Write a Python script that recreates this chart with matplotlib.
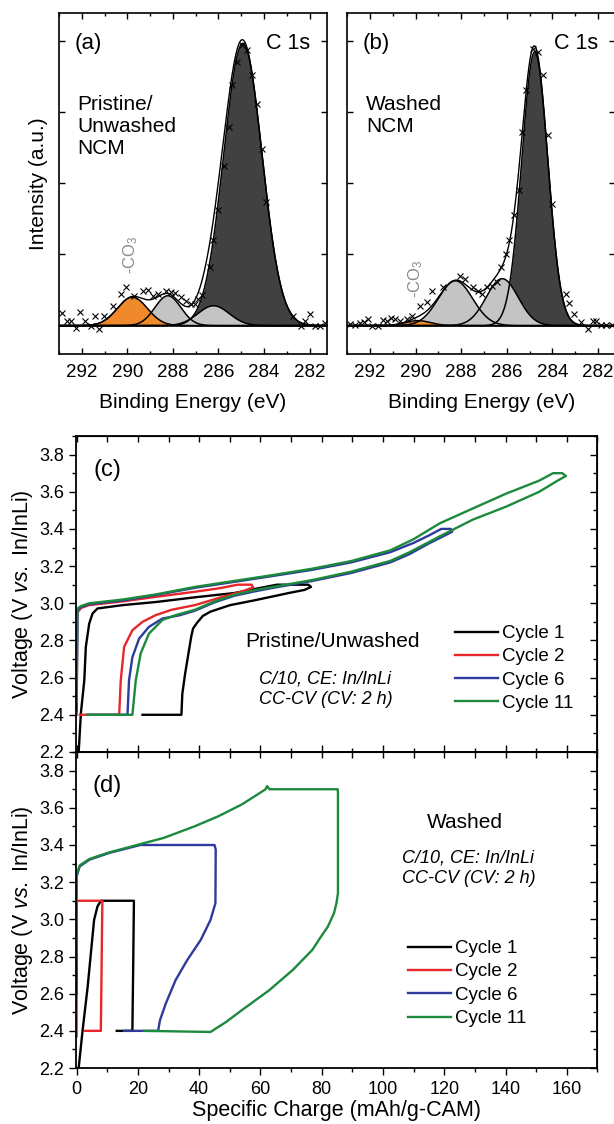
import numpy as np
import matplotlib
matplotlib.use("Agg")
import matplotlib.pyplot as plt
from matplotlib.ticker import MultipleLocator

plt.rcParams['font.family'] = ['Liberation Sans', 'DejaVu Sans']
plt.rcParams['mathtext.fontset'] = 'custom'
plt.rcParams['mathtext.rm'] = 'Liberation Sans'
plt.rcParams['mathtext.it'] = 'Liberation Sans:italic'

# ---------------- XPS C 1s data ----------------
# fit components: centre (eV), height (a.u.), sigma (eV), colour
comp_a_center = [284.93, 286.22, 288.22, 289.78]
comp_a_height = [3.97, 0.28, 0.42, 0.40]
comp_a_sigma = [0.84, 0.69, 0.57, 0.66]
comp_b_center = [284.77, 286.20, 288.25, 289.90]
comp_b_height = [3.85, 0.66, 0.63, 0.07]
comp_b_sigma = [0.57, 0.70, 0.75, 0.55]
comp_colors = ['#414141', '#c4c4c4', '#c4c4c4', '#f0892a']

pts_a_e = [292.89, 292.67, 292.47, 292.25, 292.07, 291.85, 291.60, 291.44, 291.26,
           291.04, 290.64, 290.30, 290.07, 289.73, 289.33, 289.11, 288.89, 288.67,
           288.30, 288.07, 287.93, 287.66, 287.44, 287.19, 287.04, 286.89, 286.74,
           286.37, 286.22, 286.00, 285.78, 285.56, 285.41, 285.19, 284.96, 284.74,
           284.52, 284.30, 284.07, 283.90, 282.74, 282.37, 282.22, 282.00, 281.78,
           281.56, 281.33]
pts_a_i = [0.18, 0.07, 0.07, -0.03, 0.19, 0.06, 0.00, 0.14, -0.05,
           0.14, 0.27, 0.44, 0.54, 0.42, 0.48, 0.50, 0.42, 0.45,
           0.49, 0.47, 0.46, 0.40, 0.34, 0.30, 0.30, 0.38, 0.43,
           0.82, 1.20, 1.62, 2.25, 2.79, 3.39, 3.71, 3.94, 3.87,
           3.52, 3.12, 2.49, 1.74, 0.14, 0.00, 0.07, 0.17, -0.01,
           0.00, 0.03]

pts_b_e = [292.87, 292.64, 292.42, 292.27, 292.09, 291.90, 291.67, 291.45, 291.25,
           291.07, 290.92, 290.70, 290.40, 290.17, 289.80, 289.50, 289.30, 288.82,
           288.07, 287.85, 287.47, 287.25, 287.10, 286.87, 286.65, 286.42, 286.27,
           286.05, 285.90, 285.67, 285.48, 285.33, 285.15, 284.85, 284.62, 284.40,
           284.17, 284.02, 283.42, 283.27, 283.05, 282.75, 282.45, 282.23, 282.08,
           281.85, 281.63, 281.40]
pts_b_i = [0.02, 0.01, 0.03, 0.05, 0.09, 0.00, 0.00, 0.08, 0.07,
           0.11, 0.09, 0.07, 0.09, 0.14, 0.27, 0.33, 0.48, 0.54,
           0.70, 0.66, 0.54, 0.49, 0.45, 0.54, 0.56, 0.61, 0.82,
           1.00, 1.20, 1.55, 1.90, 2.72, 3.31, 3.89, 3.85, 3.53,
           2.68, 1.71, 0.45, 0.32, 0.16, 0.05, -0.05, 0.06, 0.06,
           0.01, 0.01, 0.01]

# ---------------- galvanostatic cycling data (mAh/g-CAM, V) ----------------
labels = ['Cycle 1', 'Cycle 2', 'Cycle 6', 'Cycle 11']
cyc_colors = ['#000000', '#e8262a', '#2e3a9e', '#1c8a3c']

c1_q = [0.5, 1.4, 2.5, 3.0, 4.1, 5.2, 6.8, 15, 26, 38.6, 51.4, 61.6, 65.4, 75.6,
        76.5, 74.4, 69.2, 57.8, 50.1, 43.7, 41.2, 39.3, 38.0, 37.4, 36.5, 35.4,
        34.5, 34.2, 21.5]
c1_v = [2.15, 2.41, 2.585, 2.765, 2.89, 2.945, 2.972, 2.99, 3.007, 3.032, 3.055,
        3.088, 3.10, 3.10, 3.088, 3.072, 3.055, 3.015, 2.99, 2.955, 2.932, 2.895,
        2.864, 2.82, 2.73, 2.62, 2.513, 2.40, 2.40]
c2_q = [0, 0.2, 1.5, 4, 15, 26, 38.6, 46.3, 52.6, 57.1,
        57.6, 53.9, 46.3, 38.6, 31, 25.8, 21.5, 18.2, 15.5, 14.4, 13.9, 1.1]
c2_v = [2.40, 2.95, 2.975, 2.99, 3.01, 3.035, 3.062, 3.08, 3.10, 3.10,
        3.085, 3.063, 3.028, 2.99, 2.965, 2.936, 2.90, 2.855, 2.765, 2.585, 2.40, 2.40]
c6_q = [0, 0.3, 1.4, 4.1, 15, 26, 38.6, 51.4, 64.1, 76.9, 89.6, 102.4, 110, 115,
        119, 122.1, 122.6, 119, 115, 108.7, 102.4, 89.6, 76.9, 64.1, 57.8, 51.4,
        45, 38.6, 33.5, 28, 23.6, 20.4, 18.2, 17.1, 16.6, 3.6]
c6_v = [2.42, 2.965, 2.98, 2.995, 3.015, 3.045, 3.083, 3.115, 3.147, 3.18, 3.22,
        3.275, 3.325, 3.365, 3.40, 3.40, 3.385, 3.355, 3.322, 3.265, 3.22, 3.163,
        3.12, 3.083, 3.063, 3.04, 3.005, 2.96, 2.935, 2.918, 2.873, 2.81, 2.71,
        2.585, 2.40, 2.40]
c11_q = [0, 0.2, 1.4, 4.1, 15, 26, 38.6, 51.4, 64.1, 76.9, 89.6, 102.4, 110, 118.5,
         129.3, 140.2, 151, 155.5, 158.5, 159.7, 157, 151, 140.2, 129.3, 118.5,
         108.7, 102.4, 89.6, 76.9, 64.1, 57.8, 51.4, 45, 38.6, 32.3, 28, 23.6,
         20.9, 19.3, 18.2, 3.6]
c11_v = [2.47, 2.97, 2.985, 3.0, 3.02, 3.048, 3.088, 3.12, 3.152, 3.186, 3.227,
         3.285, 3.345, 3.43, 3.51, 3.59, 3.66, 3.70, 3.70, 3.685, 3.66, 3.60,
         3.52, 3.45, 3.36, 3.275, 3.228, 3.17, 3.125, 3.088, 3.07, 3.045, 3.01,
         2.965, 2.936, 2.91, 2.837, 2.73, 2.585, 2.40, 2.40]

w1_q = [0.6, 1.95, 3.6, 4.65, 5.7, 6.8, 7.9, 18.7, 18.5, 18.2, 13.1]
w1_v = [2.19, 2.403, 2.637, 2.817, 2.997, 3.069, 3.10, 3.10, 2.80, 2.40, 2.40]
w2_q = [0, 0, 0.6, 8.4, 7.9, 2.8]
w2_v = [2.37, 3.10, 3.10, 3.10, 2.40, 2.40]
w6_q = [0, 0, 1.0, 4.2, 10.6, 17, 20.8, 45, 45.4, 45.3, 43.7, 40.5, 36.1, 32.3,
        29.1, 27.2, 26.6, 15.5]
w6_v = [2.60, 3.23, 3.285, 3.321, 3.357, 3.384, 3.40, 3.40, 3.375, 3.087, 2.997,
        2.889, 2.781, 2.673, 2.547, 2.457, 2.40, 2.40]
w11_q = [0, 0, 1.0, 4.2, 10.6, 17, 20.8, 28.4, 38.6, 46.3, 53.9, 61.6, 62.2, 62.9,
         85.2, 85.3, 85.3, 84.8, 84.0, 82, 79.4, 76.9, 70.5, 62.9, 53.9, 48.8,
         43.7, 22]
w11_v = [2.82, 3.24, 3.29, 3.325, 3.36, 3.388, 3.405, 3.438, 3.501, 3.555, 3.618,
         3.699, 3.717, 3.70, 3.70, 3.68, 3.141, 3.087, 3.033, 2.961, 2.898, 2.835,
         2.727, 2.619, 2.511, 2.448, 2.394, 2.40]

# ======================================================================
fig = plt.figure(figsize=(6.14, 11.24), dpi=100)
ax_a = fig.add_axes([0.0961, 0.685, 0.436, 0.3037])
ax_b = fig.add_axes([0.5656, 0.685, 0.436, 0.3037])
ax_c = fig.add_axes([0.1233, 0.331, 0.8498, 0.2811])
ax_d = fig.add_axes([0.1233, 0.0498, 0.8498, 0.2811])


def xps_panel(ax, centers, heights, sigmas, pe, pi, tag, sample, co3_xy):
    e = np.linspace(293.5, 280.5, 800)
    comps = [h * np.exp(-(e - c) ** 2 / (2 * s ** 2))
             for c, h, s in zip(centers, heights, sigmas)]
    for y, col in zip(comps, comp_colors):
        ax.fill_between(e, 0, y, color=col, lw=0)
        ax.plot(e, y, color='black', lw=1.1)
    ax.plot(e, np.sum(comps, axis=0), color='black', lw=1.0)
    ax.axhline(0, color='black', lw=1.1)
    ax.plot(pe, pi, 'x', color='black', ms=4.5, mew=0.8)
    ax.set_xlim(293, 281.25)
    ax.set_ylim(-0.4, 4.4)
    ax.xaxis.set_major_locator(MultipleLocator(2))
    ax.xaxis.set_minor_locator(MultipleLocator(1))
    ax.set_yticks([1, 2, 3, 4])
    ax.set_yticklabels([])
    ax.tick_params(which='both', direction='in', top=True, right=True,
                   labelsize=13.5, width=1, pad=7)
    ax.tick_params(which='major', length=4)
    ax.tick_params(which='minor', length=2.5)
    ax.set_xlabel('Binding Energy (eV)', fontsize=15, labelpad=9)
    for s in ax.spines.values():
        s.set_linewidth(1.2)
    ax.text(0.108, 0.911, tag, transform=ax.transAxes, fontsize=16,
            ha='center', va='center')
    ax.text(0.938, 0.911, 'C 1s', transform=ax.transAxes, fontsize=15.5,
            ha='right', va='center')
    ax.text(0.07, 0.76, sample, transform=ax.transAxes, fontsize=15,
            ha='left', va='top', linespacing=1.2)
    ax.text(co3_xy[0], co3_xy[1], '-CO$_3$', color='#8a8a8a', fontsize=12,
            rotation=90, ha='center', va='center')


xps_panel(ax_a, comp_a_center, comp_a_height, comp_a_sigma, pts_a_e, pts_a_i,
          '(a)', 'Pristine/\nUnwashed\nNCM', (289.84, 1.0))
xps_panel(ax_b, comp_b_center, comp_b_height, comp_b_sigma, pts_b_e, pts_b_i,
          '(b)', 'Washed\nNCM', (290.0, 0.66))
ax_a.set_ylabel('Intensity (a.u.)', fontsize=15, labelpad=1)


def cycling_panel(ax, curves, tag, title, title_xy, cond_xy, leg_xy):
    for (q, v), col, lab in zip(curves, cyc_colors, labels):
        ax.plot(q, v, color=col, lw=1.7, label=lab)
    ax.set_xlim(-0.3, 170)
    ax.set_ylim(2.2, 3.9)
    ax.xaxis.set_major_locator(MultipleLocator(20))
    ax.xaxis.set_minor_locator(MultipleLocator(10))
    ax.yaxis.set_major_locator(MultipleLocator(0.2))
    ax.yaxis.set_minor_locator(MultipleLocator(0.1))
    ax.yaxis.set_major_formatter(plt.FormatStrFormatter('%.1f'))
    ax.tick_params(which='both', labelsize=13, width=1)
    ax.tick_params(which='major', length=5)
    ax.tick_params(which='minor', length=3)
    ax.tick_params(axis='y', which='both', direction='out')
    ax.tick_params(axis='x', which='both', direction='out', pad=4.5)
    sec_x = ax.secondary_xaxis('top')
    sec_x.xaxis.set_major_locator(MultipleLocator(10))
    sec_x.tick_params(direction='in', length=4, width=1, labeltop=False)
    sec_y = ax.secondary_yaxis('right')
    sec_y.yaxis.set_major_locator(MultipleLocator(0.2))
    sec_y.yaxis.set_minor_locator(MultipleLocator(0.1))
    sec_y.tick_params(which='major', direction='in', length=5, width=1,
                      labelright=False)
    sec_y.tick_params(which='minor', direction='in', length=3, width=1)
    for s in ax.spines.values():
        s.set_linewidth(1.3)
    ax.set_ylabel('Voltage (V $\\it{vs.}$ In/InLi)', fontsize=15.5, labelpad=3)
    ax.text(0.06, 0.893, tag, transform=ax.transAxes, fontsize=17,
            ha='center', va='center')
    ax.text(title_xy[0], title_xy[1], title, transform=ax.transAxes,
            fontsize=15, ha='center', va='center')
    ax.text(cond_xy[0], cond_xy[1], 'C/10, CE: In/InLi\nCC-CV (CV: 2 h)',
            transform=ax.transAxes, fontsize=13, style='italic',
            ha='left', va='center', linespacing=1.25)
    ax.legend(loc='upper left', bbox_to_anchor=leg_xy, frameon=False,
              fontsize=13.5, handlelength=2.3, handletextpad=0.2,
              labelspacing=0.33, borderpad=0, borderaxespad=0)


cycling_panel(ax_c, [(c1_q, c1_v), (c2_q, c2_v), (c6_q, c6_v), (c11_q, c11_v)],
              '(c)', 'Pristine/Unwashed', (0.493, 0.349), (0.351, 0.198),
              (0.727, 0.402))
ax_c.tick_params(axis='x', which='both', direction='in', labelbottom=False)
cycling_panel(ax_d, [(w1_q, w1_v), (w2_q, w2_v), (w6_q, w6_v), (w11_q, w11_v)],
              '(d)', 'Washed', (0.746, 0.778), (0.626, 0.632),
              (0.637, 0.405))
ax_d.set_xlabel('Specific Charge (mAh/g-CAM)', fontsize=15.5, labelpad=1)

fig.savefig('out.png', dpi=100)
